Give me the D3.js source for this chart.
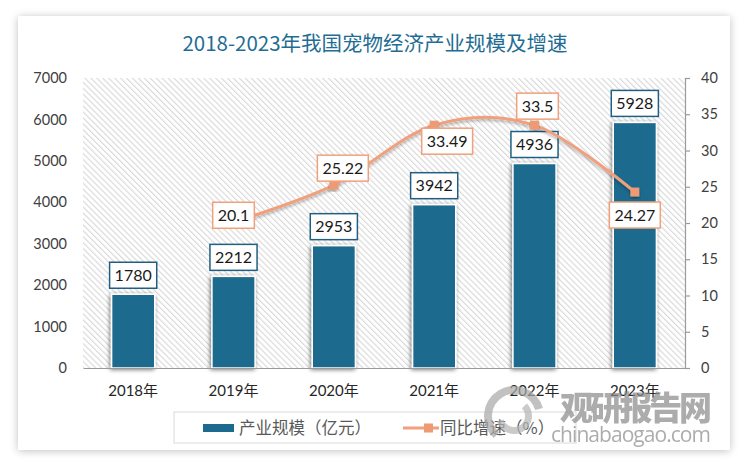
<!DOCTYPE html>
<html><head><meta charset="utf-8">
<script src="https://cdn.jsdelivr.net/npm/d3@7/dist/d3.min.js"></script>
<style>
html,body{margin:0;padding:0;background:#ffffff;}
svg{display:block;}
</style></head>
<body>
<svg id="chart" width="750" height="471"></svg>
<script>
const years = ['2018年','2019年','2020年','2021年','2022年','2023年'];
const scaleValues = [1780, 2212, 2953, 3942, 4936, 5928];
const growthYears = ['2019年','2020年','2021年','2022年','2023年'];
const growthValues = [20.1, 25.22, 33.49, 33.5, 24.27];
const leftTicks = [0,1000,2000,3000,4000,5000,6000,7000];
const rightTicks = [0,5,10,15,20,25,30,35,40];
const titleText = '2018-2023年我国宠物经济产业规模及增速';
const legendLabels = ['产业规模（亿元）','同比增速（%）'];

const W = 750, H = 471;
const plot = {left: 83, right: 685, top: 78, bottom: 368};
const barColor = '#1c6a8d', lineColor = '#f0a07c';
const numFont = 'Lato, "Noto Sans CJK SC", sans-serif';
const cjkFont = '"Noto Sans CJK SC", sans-serif';

const svg = d3.select('#chart');
const defs = svg.append('defs');

const shadow = defs.append('filter').attr('id','cardShadow').attr('x','-5%').attr('y','-5%').attr('width','110%').attr('height','110%');
shadow.append('feGaussianBlur').attr('in','SourceAlpha').attr('stdDeviation',4).attr('result','b');
shadow.append('feOffset').attr('in','b').attr('dx',0).attr('dy',1).attr('result','o');
shadow.append('feComponentTransfer').attr('in','o').attr('result','o2').append('feFuncA').attr('type','linear').attr('slope',0.25);
const m1 = shadow.append('feMerge'); m1.append('feMergeNode').attr('in','o2'); m1.append('feMergeNode').attr('in','SourceGraphic');

const barShadow = defs.append('filter').attr('id','barShadow').attr('x','-30%').attr('y','-10%').attr('width','160%').attr('height','120%');
barShadow.append('feGaussianBlur').attr('in','SourceAlpha').attr('stdDeviation',2.2).attr('result','b');
barShadow.append('feOffset').attr('in','b').attr('dx',-1).attr('dy',1).attr('result','o');
barShadow.append('feComponentTransfer').attr('in','o').attr('result','o2').append('feFuncA').attr('type','linear').attr('slope',0.55);
const m2 = barShadow.append('feMerge'); m2.append('feMergeNode').attr('in','o2'); m2.append('feMergeNode').attr('in','SourceGraphic');

const lineShadow = defs.append('filter').attr('id','lineShadow').attr('x','-10%').attr('y','-20%').attr('width','120%').attr('height','140%');
lineShadow.append('feGaussianBlur').attr('in','SourceAlpha').attr('stdDeviation',1.5).attr('result','b');
lineShadow.append('feOffset').attr('in','b').attr('dx',0).attr('dy',2).attr('result','o');
lineShadow.append('feComponentTransfer').attr('in','o').attr('result','o2').append('feFuncA').attr('type','linear').attr('slope',0.3);
const m3 = lineShadow.append('feMerge'); m3.append('feMergeNode').attr('in','o2'); m3.append('feMergeNode').attr('in','SourceGraphic');

const pat = defs.append('pattern').attr('id','hatch').attr('patternUnits','userSpaceOnUse')
  .attr('width',4.2).attr('height',4.2).attr('patternTransform','rotate(-45)');
pat.append('rect').attr('width',4.2).attr('height',4.2).attr('fill','#ffffff');
pat.append('line').attr('x1',0.6).attr('y1',0).attr('x2',0.6).attr('y2',4.2)
  .attr('stroke','#d4d4d4').attr('stroke-width',1);

// card
svg.append('rect').attr('x',18).attr('y',16).attr('width',712).attr('height',434)
  .attr('fill','#fff').attr('filter','url(#cardShadow)');

// title
svg.append('text').attr('x',375).attr('y',51).attr('text-anchor','middle')
  .attr('font-family',cjkFont).attr('font-size',20.5).attr('fill','#1f6d94').text(titleText);

// scales
const x = d3.scaleBand().domain(years).range([plot.left, plot.right]).padding(0);
const yL = d3.scaleLinear().domain([0,7000]).range([plot.bottom, plot.top]);
const yR = d3.scaleLinear().domain([0,40]).range([plot.bottom, plot.top]);
const barW = x.bandwidth()*0.43;
const cx = d => x(d) + x.bandwidth()/2;

// plot area hatch
svg.append('rect').attr('x',plot.left).attr('y',plot.top)
  .attr('width',plot.right-plot.left).attr('height',plot.bottom-plot.top).attr('fill','url(#hatch)');

// bars
svg.append('g').selectAll('rect').data(scaleValues).join('rect')
  .attr('x',(d,i)=>cx(years[i])-barW/2).attr('y',d=>yL(d))
  .attr('width',barW).attr('height',d=>yL(0)-yL(d))
  .attr('fill',barColor).attr('stroke','#ffffff').attr('stroke-width',1.5)
  .attr('filter','url(#barShadow)');

// axes
const gL = svg.append('g').attr('transform',`translate(${plot.left},0)`)
  .call(d3.axisLeft(yL).tickValues(leftTicks).tickSize(0).tickPadding(16).tickFormat(d3.format('d')));
gL.select('.domain').remove();
gL.selectAll('text').attr('font-family',numFont).attr('font-size',14.5).attr('fill','#404040');

const gR = svg.append('g').attr('transform',`translate(${plot.right},0)`)
  .call(d3.axisRight(yR).tickValues(rightTicks).tickSize(5).tickPadding(11).tickSizeOuter(0));
gR.select('.domain').attr('stroke','#9a9a9a').attr('stroke-width',1.2);
gR.selectAll('line').attr('stroke','#9a9a9a').attr('stroke-width',1.2);
gR.selectAll('text').attr('font-family',numFont).attr('font-size',14.5).attr('fill','#404040');

const gB = svg.append('g').attr('transform',`translate(0,${plot.bottom})`)
  .call(d3.axisBottom(x).tickSize(0).tickPadding(17).tickSizeOuter(0));
gB.select('.domain').attr('stroke','#9a9a9a').attr('stroke-width',1.2);
gB.selectAll('text').attr('font-family',numFont).attr('font-size',15).attr('fill','#262626');

// bar labels
const bl = svg.append('g').selectAll('g').data(scaleValues).join('g')
  .attr('transform',(d,i)=>`translate(${cx(years[i])},${yL(d)-19})`);
bl.append('rect').attr('class','box');
bl.append('text').attr('text-anchor','middle').attr('dy','0.36em')
  .attr('font-family',numFont).attr('font-size',16).attr('fill','#1a1a1a').text(d=>d);
bl.each(function(){
  const g = d3.select(this); const w = g.select('text').node().getComputedTextLength()+10;
  g.select('rect').attr('x',-w/2).attr('y',-13).attr('width',w).attr('height',26)
    .attr('fill','#fff').attr('stroke','#1f5f82').attr('stroke-width',1.5);
});

// line
const line = d3.line().x((d,i)=>cx(growthYears[i])).y(d=>yR(d)).curve(d3.curveCardinal.tension(0));
svg.append('path').datum(growthValues).attr('d',line).attr('fill','none')
  .attr('stroke',lineColor).attr('stroke-width',3).attr('filter','url(#lineShadow)');
svg.append('g').selectAll('rect').data(growthValues).join('rect')
  .attr('x',(d,i)=>cx(growthYears[i])-4.5).attr('y',d=>yR(d)-4.5)
  .attr('width',9).attr('height',9).attr('fill','#ee9a74').attr('filter','url(#lineShadow)');

// line labels
const labelOffsets = [[0,-7],[9,-17],[13,16],[3,-19],[0,23]];
const ll = svg.append('g').selectAll('g').data(growthValues).join('g')
  .attr('transform',(d,i)=>`translate(${cx(growthYears[i])+labelOffsets[i][0]},${yR(d)+labelOffsets[i][1]})`);
ll.append('rect');
ll.append('text').attr('text-anchor','middle').attr('dy','0.36em')
  .attr('font-family',numFont).attr('font-size',16).attr('fill','#1a1a1a').text(d=>d);
ll.each(function(){
  const g = d3.select(this); const w = g.select('text').node().getComputedTextLength()+10;
  g.select('rect').attr('x',-w/2).attr('y',-13).attr('width',w).attr('height',26)
    .attr('fill','#fff').attr('stroke','#f0a07c').attr('stroke-width',1.5);
});

// legend
const lg = svg.append('g');
lg.append('rect').attr('x',174).attr('y',412).attr('width',402).attr('height',31)
  .attr('fill','#fff').attr('stroke','#d9d9d9').attr('stroke-width',1);
lg.append('rect').attr('x',203).attr('y',424).attr('width',31).attr('height',8).attr('fill',barColor);
lg.append('text').attr('x',239).attr('y',428).attr('dy','0.36em').attr('font-family',cjkFont)
  .attr('font-size',16.5).attr('fill','#595959').text(legendLabels[0]);
lg.append('line').attr('x1',403).attr('x2',439).attr('y1',428).attr('y2',428)
  .attr('stroke',lineColor).attr('stroke-width',3);
lg.append('rect').attr('x',424).attr('y',423.5).attr('width',9).attr('height',9).attr('fill','#ee9a74');
lg.append('text').attr('x',440).attr('y',428).attr('dy','0.36em').attr('font-family',cjkFont)
  .attr('font-size',16.5).attr('fill','#595959').text(legendLabels[1]);

// watermark
const wm = svg.append('g').attr('opacity',0.7);
wm.append('path').attr('d',d3.arc()({innerRadius:22,outerRadius:30,startAngle:-2.4,endAngle:1.3}))
  .attr('transform','translate(514,416)').attr('fill','#a8a8a8');
wm.append('path').attr('d',d3.arc()({innerRadius:11,outerRadius:18,startAngle:0.8,endAngle:4.4}))
  .attr('transform','translate(514,416)').attr('fill','#b4b4b4');
wm.append('text').attr('x',560).attr('y',420).attr('font-family',cjkFont).attr('font-weight',900)
  .attr('font-size',33).attr('fill','#8a8a8a').attr('textLength',152).text('观研报告网');
wm.append('text').attr('x',551).attr('y',442).attr('font-family','"Open Sans", sans-serif')
  .attr('font-size',21).attr('fill','#8a8a8a').attr('textLength',160).text('chinabaogao.com');
</script>
</body></html>
